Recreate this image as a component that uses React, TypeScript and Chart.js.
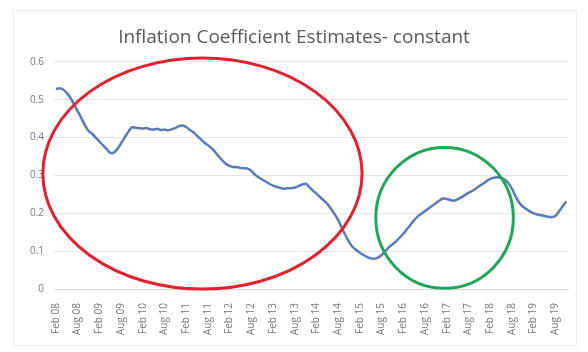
import React, { useEffect, useRef } from "react";
import { Chart, registerables } from "chart.js";

Chart.register(...registerables);

const MONTHS = ["Jan", "Feb", "Mar", "Apr", "May", "Jun", "Jul", "Aug", "Sep", "Oct", "Nov", "Dec"];

// Monthly labels Feb 08 .. Nov 19
const labels: string[] = [];
for (let i = 0; i < 142; i++) {
  const mi = (1 + i) % 12;
  const yr = 8 + Math.floor((1 + i) / 12);
  labels.push(`${MONTHS[mi]} ${String(yr).padStart(2, "0")}`);
}

const coefficient = [
  0.528, 0.530, 0.527, 0.518, 0.505, 0.488, 0.470, 0.452, 0.433, 0.418,
  0.410, 0.400, 0.390, 0.380, 0.370, 0.360, 0.360, 0.370, 0.385, 0.400,
  0.415, 0.427, 0.426, 0.425, 0.424, 0.425, 0.422, 0.421, 0.423, 0.420,
  0.421, 0.419, 0.422, 0.425, 0.430, 0.432, 0.428, 0.420, 0.414, 0.405,
  0.396, 0.387, 0.380, 0.372, 0.362, 0.350, 0.340, 0.330, 0.325, 0.322,
  0.322, 0.320, 0.319, 0.318, 0.312, 0.302, 0.295, 0.289, 0.284, 0.278,
  0.273, 0.270, 0.267, 0.265, 0.266, 0.266, 0.268, 0.272, 0.276, 0.278,
  0.270, 0.260, 0.252, 0.243, 0.234, 0.225, 0.212, 0.198, 0.182, 0.162,
  0.142, 0.125, 0.111, 0.103, 0.096, 0.090, 0.085, 0.081, 0.080, 0.083,
  0.090, 0.100, 0.110, 0.118, 0.126, 0.136, 0.146, 0.158, 0.170, 0.182,
  0.192, 0.199, 0.206, 0.213, 0.220, 0.227, 0.234, 0.239, 0.238, 0.235,
  0.233, 0.237, 0.242, 0.248, 0.254, 0.259, 0.265, 0.272, 0.278, 0.285,
  0.291, 0.294, 0.295, 0.293, 0.289, 0.280, 0.265, 0.245, 0.228, 0.218,
  0.211, 0.205, 0.200, 0.197, 0.195, 0.193, 0.191, 0.190, 0.193, 0.205,
  0.218, 0.232,
];

const yTicks = [0, 0.1, 0.2, 0.3, 0.4, 0.5, 0.6];

// Annotation ellipses in data units: center month index, center value, radius in months, radius in value
const ellipseCenterX = [40.5, 107.4];
const ellipseCenterY = [0.305, 0.188];
const ellipseRadiusX = [44.1, 19.0];
const ellipseRadiusY = [0.305, 0.186];
const ellipseColors = ["#e3202f", "#20a556"];

const ellipsePlugin = {
  id: "ellipses",
  afterDraw(chart: any) {
    const { ctx, scales } = chart;
    const xs = scales.x;
    const ys = scales.y;
    ctx.save();
    for (let i = 0; i < ellipseCenterX.length; i++) {
      const cx = xs.getPixelForValue(ellipseCenterX[i]);
      const cy = ys.getPixelForValue(ellipseCenterY[i]);
      const rx = Math.abs(xs.getPixelForValue(ellipseCenterX[i] + ellipseRadiusX[i]) - cx);
      const ry = Math.abs(ys.getPixelForValue(ellipseCenterY[i] + ellipseRadiusY[i]) - cy);
      ctx.beginPath();
      ctx.ellipse(cx, cy, rx, ry, 0, 0, Math.PI * 2);
      ctx.strokeStyle = ellipseColors[i];
      ctx.lineWidth = 3;
      ctx.stroke();
    }
    ctx.restore();
  },
};

export default function App() {
  const ref = useRef<HTMLCanvasElement | null>(null);
  useEffect(() => {
    if (!ref.current) return;
    const chart = new Chart(ref.current, {
      type: "line",
      data: {
        labels,
        datasets: [
          {
            label: "constant",
            data: coefficient,
            borderColor: "#5a7cb6",
            borderWidth: 2.5,
            pointRadius: 0,
            tension: 0.3,
            fill: false,
          },
        ],
      },
      options: {
        animation: false,
        responsive: false,
        maintainAspectRatio: false,
        layout: { padding: { left: 20, right: 20, top: 0, bottom: 11 } },
        plugins: {
          legend: { display: false },
          tooltip: { enabled: false },
          title: {
            display: true,
            text: "Inflation Coefficient Estimates- constant",
            color: "#595959",
            font: { family: "'Open Sans', sans-serif", size: 19, weight: "normal" },
            padding: { top: 26, bottom: 13 },
          },
        },
        scales: {
          x: {
            type: "category",
            offset: true,
            grid: { display: false },
            border: { display: true, color: "#d9d9d9" },
            ticks: {
              autoSkip: false,
              maxRotation: 90,
              minRotation: 90,
              padding: 6,
              color: "#767676",
              font: { family: "'Open Sans', sans-serif", size: 10 },
              callback: (_v: any, i: number) => (i % 6 === 0 ? labels[i] : null),
            },
          },
          y: {
            min: 0,
            max: 0.6,
            afterBuildTicks: (axis: any) => {
              axis.ticks = yTicks.map((v) => ({ value: v }));
            },
            grid: { color: "#e6e6e6", drawTicks: false, lineWidth: 1 },
            border: { display: false },
            ticks: {
              padding: 10,
              color: "#767676",
              font: { family: "'Open Sans', sans-serif", size: 10 },
              callback: (v: any) => String(Math.round(Number(v) * 10) / 10),
            },
          },
        },
      },
      plugins: [ellipsePlugin],
    });
    return () => chart.destroy();
  }, []);
  return (
    <div style={{ position: "fixed", left: 0, top: 0, width: 588, height: 352, background: "#fff" }}>
      <canvas ref={ref} width={588} height={352} style={{ display: "block" }} />
      <div
        style={{
          position: "absolute",
          left: 13,
          top: 10,
          width: 564,
          height: 336,
          border: "1px solid #ededed",
          boxSizing: "border-box",
          pointerEvents: "none",
        }}
      />
    </div>
  );
}
